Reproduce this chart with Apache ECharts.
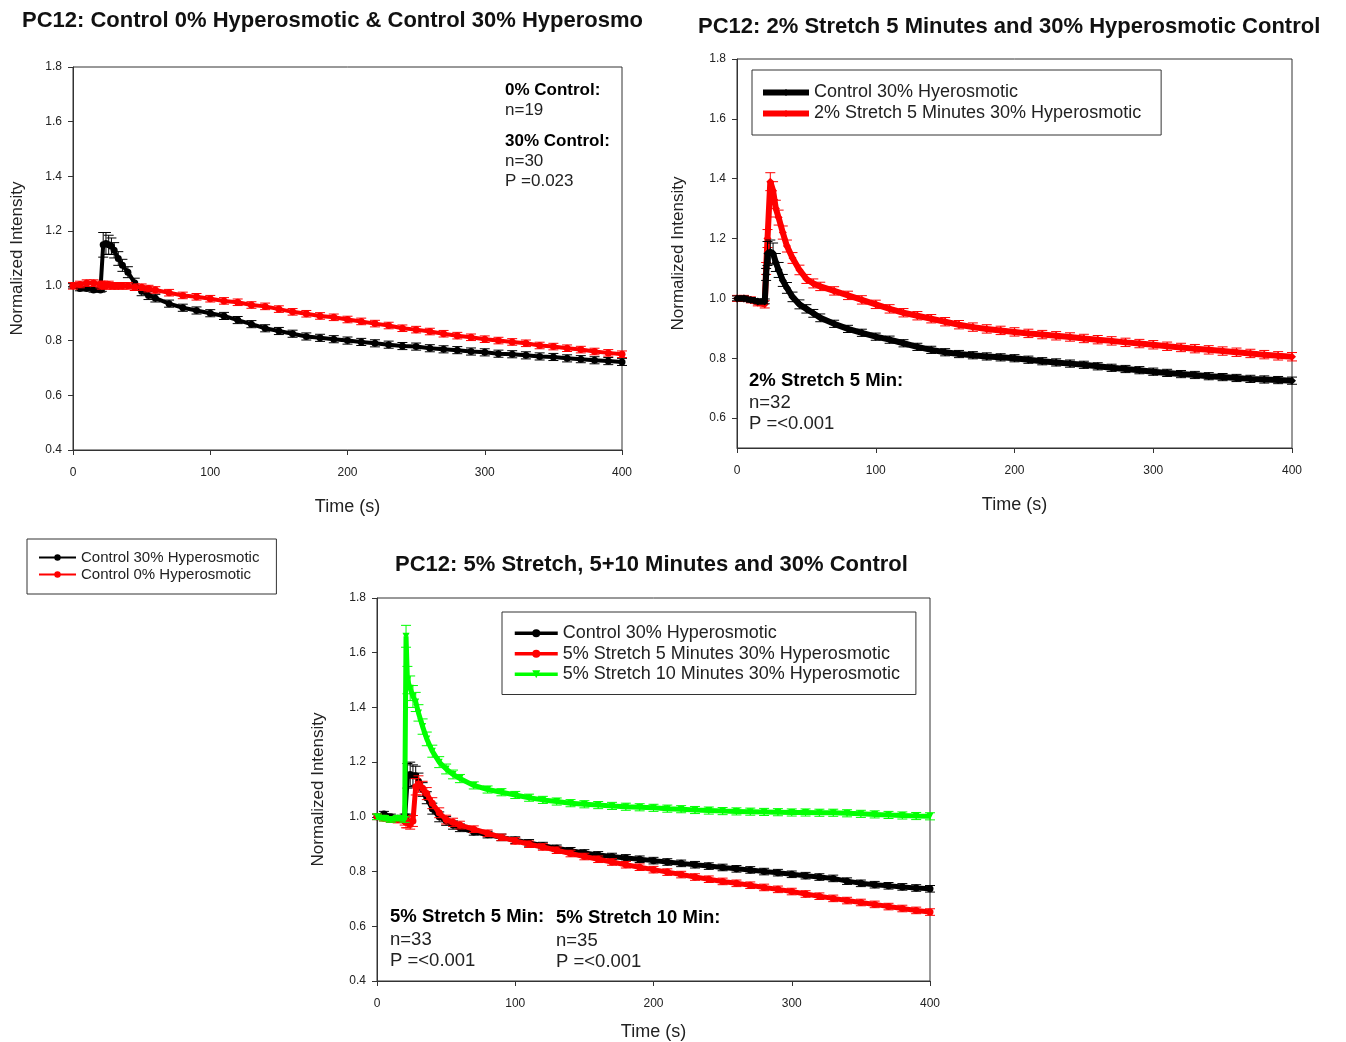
<!DOCTYPE html>
<html>
<head>
<meta charset="utf-8">
<script src="https://cdn.jsdelivr.net/npm/echarts@6/dist/echarts.min.js"></script>
<style>
  html, body { margin: 0; padding: 0; background: #fff; }
  #chart { width: 1346px; height: 1042px; }
</style>
</head>
<body>
<div id="chart"></div>
<script>
// sample times (s)
var T = [0, 5, 10, 15, 20, 21, 22, 24, 26, 28, 30, 33, 36, 40, 45, 50, 55, 60,
  70, 80, 90, 100, 110, 120, 130, 140, 150, 160, 170, 180, 190, 200, 210, 220, 230, 240,
  250, 260, 270, 280, 290, 300, 310, 320, 330, 340, 350, 360, 370, 380, 390, 400];

// chart 1: control 30% / control 0%
var c1Ctrl30 = [1.00, 0.99, 0.99, 0.985, 0.985, 0.99, 1.15, 1.155, 1.15, 1.145, 1.13, 1.10, 1.075, 1.05, 1.01, 0.98, 0.965, 0.955,
  0.935, 0.92, 0.91, 0.90, 0.89, 0.875, 0.86, 0.845, 0.835, 0.825, 0.815, 0.81, 0.805, 0.80, 0.795, 0.79, 0.785, 0.78,
  0.778, 0.772, 0.768, 0.765, 0.76, 0.757, 0.752, 0.75, 0.746, 0.742, 0.74, 0.735, 0.732, 0.728, 0.725, 0.722];
var c1Ctrl30Err = [0.008, 0.008, 0.008, 0.008, 0.008, 0.01, 0.045, 0.04, 0.035, 0.03, 0.028, 0.025, 0.022, 0.02, 0.018, 0.016, 0.015, 0.014,
  0.013, 0.013, 0.013, 0.013, 0.013, 0.013, 0.013, 0.013, 0.013, 0.013, 0.013, 0.013, 0.013, 0.013, 0.013, 0.013, 0.013, 0.013,
  0.013, 0.013, 0.013, 0.013, 0.013, 0.013, 0.013, 0.013, 0.013, 0.013, 0.013, 0.013, 0.013, 0.013, 0.013, 0.013];
var c1Ctrl0 = [1.00, 1.005, 1.01, 1.01, 1.005, 1.0, 1.005, 1.0, 1.005, 1.0, 1.0, 1.0, 1.0, 1.0, 0.995, 0.995, 0.99, 0.985,
  0.975, 0.965, 0.96, 0.953, 0.945, 0.94, 0.93, 0.925, 0.915, 0.905, 0.898, 0.89, 0.885, 0.877, 0.87, 0.862, 0.855, 0.845,
  0.84, 0.833, 0.825, 0.818, 0.812, 0.805, 0.80, 0.795, 0.79, 0.782, 0.778, 0.772, 0.767, 0.76, 0.755, 0.75];
var c1Ctrl0Err = [0.012, 0.012, 0.012, 0.012, 0.012, 0.012, 0.012, 0.012, 0.012, 0.012, 0.012, 0.012, 0.012, 0.012, 0.012, 0.012, 0.012, 0.012,
  0.012, 0.012, 0.012, 0.012, 0.012, 0.012, 0.012, 0.012, 0.012, 0.012, 0.012, 0.012, 0.012, 0.012, 0.012, 0.012, 0.012, 0.012,
  0.012, 0.012, 0.012, 0.012, 0.012, 0.012, 0.012, 0.012, 0.012, 0.012, 0.012, 0.012, 0.012, 0.012, 0.012, 0.012];

// chart 2: control 30% / 2% stretch 5 min
var c2Ctrl30 = [1.0, 1.0, 0.995, 0.99, 0.99, 1.08, 1.15, 1.155, 1.15, 1.12, 1.095, 1.06, 1.035, 1.005, 0.98, 0.965, 0.95, 0.935,
  0.915, 0.898, 0.885, 0.872, 0.862, 0.85, 0.838, 0.828, 0.82, 0.814, 0.81, 0.806, 0.803, 0.80, 0.795, 0.79, 0.786, 0.782,
  0.778, 0.773, 0.768, 0.764, 0.76, 0.755, 0.751, 0.747, 0.744, 0.74, 0.737, 0.734, 0.731, 0.729, 0.727, 0.725];
var c2Ctrl30Err = [0.008, 0.008, 0.008, 0.008, 0.008, 0.02, 0.04, 0.04, 0.035, 0.03, 0.025, 0.02, 0.018, 0.016, 0.015, 0.014, 0.013, 0.013,
  0.012, 0.012, 0.012, 0.012, 0.012, 0.012, 0.012, 0.012, 0.012, 0.012, 0.012, 0.012, 0.012, 0.012, 0.012, 0.012, 0.012, 0.012,
  0.012, 0.012, 0.012, 0.012, 0.012, 0.012, 0.012, 0.012, 0.012, 0.012, 0.012, 0.012, 0.012, 0.012, 0.012, 0.012];
var c2Str2 = [1.0, 1.0, 0.995, 0.985, 0.98, 1.10, 1.20, 1.39, 1.36, 1.30, 1.27, 1.22, 1.175, 1.135, 1.095, 1.065, 1.05, 1.04,
  1.025, 1.01, 0.995, 0.98, 0.965, 0.952, 0.942, 0.932, 0.922, 0.912, 0.904, 0.898, 0.893, 0.888, 0.883, 0.879, 0.875, 0.871,
  0.866, 0.862, 0.858, 0.853, 0.849, 0.845, 0.84, 0.836, 0.832, 0.828, 0.824, 0.82, 0.816, 0.812, 0.808, 0.805];
var c2Str2Err = [0.01, 0.01, 0.01, 0.01, 0.012, 0.02, 0.03, 0.03, 0.03, 0.028, 0.025, 0.022, 0.02, 0.018, 0.016, 0.015, 0.015, 0.014,
  0.014, 0.014, 0.014, 0.014, 0.014, 0.014, 0.014, 0.014, 0.014, 0.014, 0.014, 0.014, 0.014, 0.014, 0.014, 0.014, 0.014, 0.014,
  0.014, 0.014, 0.014, 0.014, 0.014, 0.014, 0.014, 0.014, 0.014, 0.014, 0.014, 0.014, 0.014, 0.014, 0.014, 0.014];

// chart 3: control 30% / 5% stretch 5 min / 5% stretch 10 min
var c3Ctrl30 = [1.0, 1.01, 1.0, 0.995, 1.0, 1.0, 1.15, 1.155, 1.15, 1.15, 1.13, 1.10, 1.07, 1.03, 1.0, 0.985, 0.97, 0.96,
  0.945, 0.935, 0.925, 0.915, 0.905, 0.895, 0.885, 0.876, 0.868, 0.861, 0.855, 0.85, 0.845, 0.84, 0.835, 0.83, 0.825, 0.82,
  0.815, 0.81, 0.806, 0.80, 0.796, 0.79, 0.785, 0.78, 0.775, 0.765, 0.757, 0.752, 0.748, 0.744, 0.74, 0.737];
var c3Ctrl30Err = [0.01, 0.01, 0.01, 0.01, 0.01, 0.01, 0.045, 0.045, 0.04, 0.035, 0.03, 0.025, 0.022, 0.02, 0.018, 0.016, 0.015, 0.014,
  0.012, 0.012, 0.012, 0.012, 0.012, 0.012, 0.012, 0.012, 0.012, 0.012, 0.012, 0.012, 0.012, 0.012, 0.012, 0.012, 0.012, 0.012,
  0.012, 0.012, 0.012, 0.012, 0.012, 0.012, 0.012, 0.012, 0.012, 0.012, 0.012, 0.012, 0.012, 0.012, 0.012, 0.012];
var c3Str5m5 = [1.0, 0.995, 0.99, 0.99, 0.985, 0.98, 0.98, 0.975, 0.985, 1.11, 1.12, 1.105, 1.085, 1.05, 1.015, 0.99, 0.98, 0.97,
  0.955, 0.94, 0.925, 0.912, 0.90, 0.89, 0.878, 0.866, 0.855, 0.845, 0.835, 0.825, 0.816, 0.807, 0.798, 0.789, 0.78, 0.772,
  0.764, 0.757, 0.75, 0.742, 0.735, 0.727, 0.718, 0.71, 0.702, 0.694, 0.687, 0.68, 0.672, 0.665, 0.658, 0.652];
var c3Str5m5Err = [0.01, 0.01, 0.01, 0.012, 0.015, 0.02, 0.02, 0.02, 0.02, 0.03, 0.03, 0.025, 0.022, 0.02, 0.018, 0.016, 0.015, 0.014,
  0.012, 0.012, 0.012, 0.012, 0.012, 0.012, 0.012, 0.012, 0.012, 0.012, 0.012, 0.012, 0.012, 0.012, 0.012, 0.012, 0.012, 0.012,
  0.012, 0.012, 0.012, 0.012, 0.012, 0.012, 0.012, 0.012, 0.012, 0.012, 0.012, 0.012, 0.012, 0.012, 0.012, 0.012];
var c3Str5m10 = [1.0, 0.995, 0.99, 0.995, 0.99, 1.66, 1.50, 1.47, 1.44, 1.42, 1.38, 1.33, 1.285, 1.24, 1.20, 1.175, 1.155, 1.14,
  1.115, 1.10, 1.09, 1.08, 1.07, 1.062, 1.056, 1.05, 1.046, 1.043, 1.04, 1.037, 1.035, 1.033, 1.03, 1.028, 1.025, 1.023,
  1.021, 1.02, 1.019, 1.018, 1.017, 1.016, 1.016, 1.015, 1.015, 1.013, 1.011, 1.009, 1.007, 1.005, 1.003, 1.002];
var c3Str5m10Err = [0.01, 0.01, 0.01, 0.01, 0.01, 0.04, 0.05, 0.045, 0.04, 0.035, 0.03, 0.028, 0.025, 0.022, 0.02, 0.018, 0.016, 0.015,
  0.013, 0.013, 0.013, 0.013, 0.013, 0.013, 0.013, 0.013, 0.013, 0.013, 0.013, 0.013, 0.013, 0.013, 0.013, 0.013, 0.013, 0.013,
  0.013, 0.013, 0.013, 0.013, 0.013, 0.013, 0.013, 0.013, 0.013, 0.013, 0.013, 0.013, 0.013, 0.013, 0.013, 0.013];

var y2Ticks = [0.6, 0.8, 1.0, 1.2, 1.4, 1.6, 1.8];

var FONT = 'Liberation Sans, Arial, sans-serif';
var BLACK = '#000000', RED = '#ff0000', GREEN = '#00ff00';

function pairs(vals) {
  return T.map(function (t, i) { return [t, vals[i]]; });
}
function triples(vals, errs) {
  return T.map(function (t, i) { return [t, vals[i], errs[i]]; });
}

function lineSeries(name, idx, vals, color, symbol, width, size, z) {
  return {
    name: name,
    type: 'line',
    xAxisIndex: idx,
    yAxisIndex: idx,
    data: pairs(vals),
    symbol: symbol,
    symbolRotate: symbol === 'triangle' ? 180 : 0,
    symbolSize: size,
    showSymbol: true,
    lineStyle: { color: color, width: width },
    itemStyle: { color: color },
    z: z,
    animation: false
  };
}

function errSeries(idx, vals, errs, color, z) {
  return {
    type: 'custom',
    xAxisIndex: idx,
    yAxisIndex: idx,
    data: triples(vals, errs),
    encode: { x: 0, y: 1 },
    z: z,
    silent: true,
    renderItem: function (params, api) {
      var x = api.value(0), y = api.value(1), e = api.value(2);
      var hi = api.coord([x, y + e]);
      var lo = api.coord([x, y - e]);
      var st = { stroke: color, lineWidth: 1 };
      return {
        type: 'group',
        children: [
          { type: 'line', shape: { x1: hi[0], y1: hi[1], x2: lo[0], y2: lo[1] }, style: st },
          { type: 'line', shape: { x1: hi[0] - 5, y1: hi[1], x2: hi[0] + 5, y2: hi[1] }, style: st },
          { type: 'line', shape: { x1: lo[0] - 5, y1: lo[1], x2: lo[0] + 5, y2: lo[1] }, style: st }
        ]
      };
    }
  };
}

function xAxisCfg(idx, gap) {
  return {
    type: 'value', gridIndex: idx, min: 0, max: 400, interval: 100,
    name: 'Time (s)', nameLocation: 'middle', nameGap: gap,
    nameTextStyle: { fontSize: 18, color: '#222', fontFamily: FONT },
    axisLine: { lineStyle: { color: '#333', width: 1 } },
    axisTick: { show: true, length: 5, lineStyle: { color: '#333' } },
    axisLabel: { fontSize: 12, color: '#222', margin: 17, fontFamily: FONT },
    splitLine: { show: false }
  };
}

function yAxisCfg(idx, min, gap) {
  return {
    type: 'value', gridIndex: idx, min: min, max: 1.8, interval: 0.2,
    name: 'Normalized Intensity', nameLocation: 'middle', nameGap: gap,
    nameTextStyle: { fontSize: 17, color: '#222', fontFamily: FONT },
    axisLine: { show: true, lineStyle: { color: '#333', width: 1 } },
    axisTick: { show: true, length: 5, lineStyle: { color: '#333' } },
    axisLabel: {
      fontSize: 12, color: '#222', margin: 11, fontFamily: FONT,
      formatter: function (v) { return v.toFixed(1); }
    },
    splitLine: { show: false }
  };
}

function label(x, y, text, bold, size) {
  return {
    type: 'text', x: x, y: y, silent: true,
    style: {
      text: text, fill: bold ? '#000' : '#222', verticalAlign: 'middle',
      font: (bold ? 'bold ' : '') + size + 'px ' + FONT
    }
  };
}

var chart = echarts.init(document.getElementById('chart'));

var y2 = yAxisCfg(1, 0.5, 50);
y2.interval = 0.1;
y2.axisTick.customValues = y2Ticks;
y2.axisLabel.customValues = y2Ticks;

var titleStyle = { fontSize: 22, fontWeight: 'bold', color: '#111', fontFamily: FONT };

var option = {
  backgroundColor: '#fff',
  animation: false,
  title: [
    { text: 'PC12: Control 0% Hyperosmotic & Control 30% Hyperosmo', left: 22, top: 10, padding: 0, textStyle: titleStyle },
    { text: 'PC12: 2% Stretch 5 Minutes and 30% Hyperosmotic Control', left: 698, top: 16, padding: 0, textStyle: titleStyle },
    { text: 'PC12: 5% Stretch, 5+10 Minutes and 30% Control', left: 395, top: 554, padding: 0, textStyle: titleStyle }
  ],
  grid: [
    { left: 73, top: 67, width: 549, height: 383, show: true, borderColor: '#333', borderWidth: 1 },
    { left: 737, top: 59, width: 555, height: 389, show: true, borderColor: '#333', borderWidth: 1 },
    { left: 377, top: 598, width: 553, height: 385, show: true, borderColor: '#333', borderWidth: 1 }
  ],
  xAxis: [xAxisCfg(0, 48), xAxisCfg(1, 48), xAxisCfg(2, 42)],
  yAxis: [yAxisCfg(0, 0.4, 47), y2, yAxisCfg(2, 0.4, 50)],
  legend: [
    {
      data: ['Control 30% Hyperosmotic', 'Control 0% Hyperosmotic'],
      left: 27, top: 539, orient: 'vertical', selectedMode: false,
      padding: [10, 17, 11, 11], itemGap: 0, itemWidth: 37, itemHeight: 8,
      borderColor: '#333', borderWidth: 1,
      lineStyle: { width: 2 },
      textStyle: { fontSize: 15, lineHeight: 17, color: '#222', fontFamily: FONT }
    },
    {
      data: ['Control 30% Hyerosmotic', '2% Stretch 5 Minutes 30% Hyperosmotic'],
      left: 752, top: 70, orient: 'vertical', selectedMode: false,
      padding: [12, 20, 11, 8], itemGap: 0, itemWidth: 46, itemHeight: 9,
      borderColor: '#333', borderWidth: 1,
      lineStyle: { width: 6 },
      textStyle: { fontSize: 18, lineHeight: 21, color: '#222', fontFamily: FONT }
    },
    {
      data: ['Control 30% Hyperosmotic', '5% Stretch 5 Minutes 30% Hyperosmotic', '5% Stretch 10 Minutes 30% Hyperosmotic'],
      left: 502, top: 612, orient: 'vertical', selectedMode: false,
      padding: [11, 16, 10, 11], itemGap: 0, itemWidth: 43, itemHeight: 10,
      borderColor: '#333', borderWidth: 1,
      lineStyle: { width: 3.5 },
      textStyle: { fontSize: 18, lineHeight: 20.5, color: '#222', fontFamily: FONT }
    }
  ],
  graphic: [
    label(505, 90, '0% Control:', true, 17),
    label(505, 110, 'n=19', false, 17),
    label(505, 141, '30% Control:', true, 17),
    label(505, 161, 'n=30', false, 17),
    label(505, 181, 'P =0.023', false, 17),
    label(749, 381, '2% Stretch 5 Min:', true, 18.5),
    label(749, 403, 'n=32', false, 18.5),
    label(749, 424, 'P =<0.001', false, 18.5),
    label(390, 917, '5% Stretch 5 Min:', true, 18.5),
    label(390, 940, 'n=33', false, 18.5),
    label(390, 961, 'P =<0.001', false, 18.5),
    label(556, 918, '5% Stretch 10 Min:', true, 18.5),
    label(556, 941, 'n=35', false, 18.5),
    label(556, 962, 'P =<0.001', false, 18.5)
  ],
  series: [
    errSeries(0, c1Ctrl30, c1Ctrl30Err, BLACK, 2),
    lineSeries('Control 30% Hyperosmotic', 0, c1Ctrl30, BLACK, 'circle', 4, 7, 3),
    errSeries(0, c1Ctrl0, c1Ctrl0Err, RED, 4),
    lineSeries('Control 0% Hyperosmotic', 0, c1Ctrl0, RED, 'circle', 4, 7, 5),

    errSeries(1, c2Str2, c2Str2Err, RED, 2),
    lineSeries('2% Stretch 5 Minutes 30% Hyperosmotic', 1, c2Str2, RED, 'diamond', 6, 8, 3),
    errSeries(1, c2Ctrl30, c2Ctrl30Err, BLACK, 4),
    lineSeries('Control 30% Hyerosmotic', 1, c2Ctrl30, BLACK, 'diamond', 6, 8, 5),

    errSeries(2, c3Ctrl30, c3Ctrl30Err, BLACK, 2),
    lineSeries('Control 30% Hyperosmotic', 2, c3Ctrl30, BLACK, 'circle', 5, 7, 3),
    errSeries(2, c3Str5m5, c3Str5m5Err, RED, 4),
    lineSeries('5% Stretch 5 Minutes 30% Hyperosmotic', 2, c3Str5m5, RED, 'circle', 5, 7, 5),
    errSeries(2, c3Str5m10, c3Str5m10Err, GREEN, 6),
    lineSeries('5% Stretch 10 Minutes 30% Hyperosmotic', 2, c3Str5m10, GREEN, 'triangle', 5, 7, 7)
  ]
};
chart.setOption(option);
</script>
</body>
</html>
